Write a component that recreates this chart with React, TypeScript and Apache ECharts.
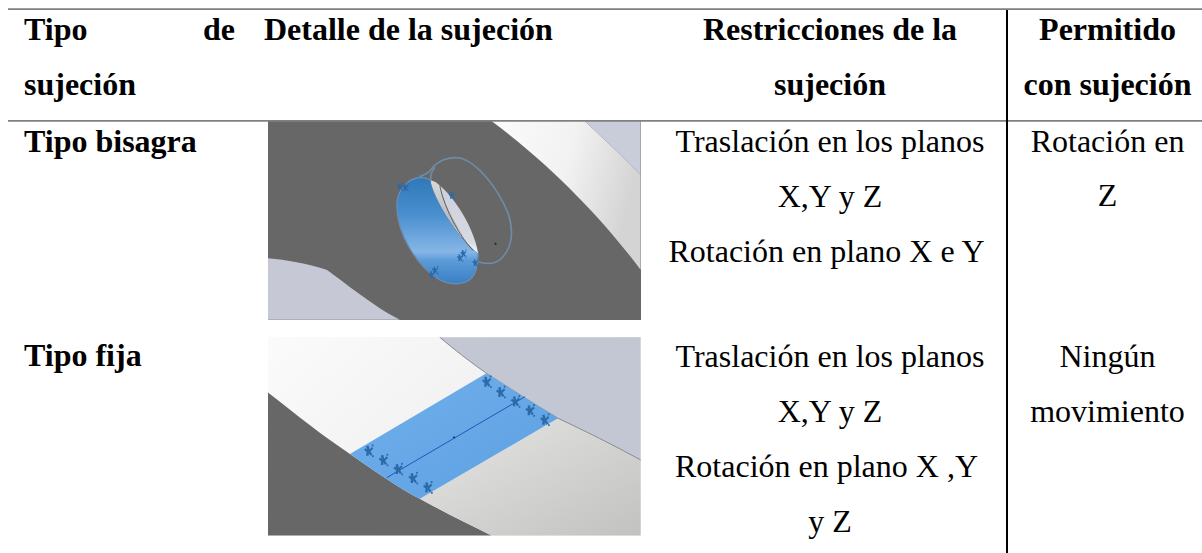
import React, { useEffect, useRef } from "react";
import * as echarts from "echarts";

const headerLeft = ["Tipo", "de", "sujeción"];
const headerDetail = "Detalle de la sujeción";
const headerRestr = ["Restricciones de la", "sujeción"];
const headerAllowed = ["Permitido", "con sujeción"];
const rowTypes = ["Tipo bisagra", "Tipo fija"];
const restr1 = ["Traslación en los planos", "X,Y y Z", "Rotación en plano X e Y"];
const restr2 = ["Traslación en los planos", "X,Y y Z", "Rotación en plano X ,Y", "y Z"];
const allowed1 = ["Rotación en", "Z"];
const allowed2 = ["Ningún", "movimiento"];

const FONT = "'Liberation Serif', 'Times New Roman', serif";
const SIZE = 32;
const BASE = 10.8;

// illustration outlines, in 3x crop units
const SHAPES: Record<string, string> = {
  a1Band: "M695 33 L975 33 C1040 95 1090 140 1143 195 L1143 480 C1040 340 880 170 695 33 Z",
  a1Corner: "M975 33 L1143 33 L1143 195 C1090 140 1040 95 975 33 Z",
  a1Low: "M24 445 C80 450 140 460 200 480 C250 515 340 590 420 630 L24 630 Z",
  a1Blue: "M411 285 C412 235 450 200 490 203 C500 205 510 208 513 212 C520 260 590 380 655 430 C655 465 650 490 635 505 C610 528 570 525 540 510 C470 470 410 370 411 285 Z",
  a1Inner: "M513 212 C560 225 640 340 655 430 C590 380 520 260 513 212 Z",
  a1InnerDark: "M513 212 C530 215 540 225 545 240 C565 310 610 385 655 430 C590 380 520 260 513 212 Z",
  a1Line: "M540 228 C555 300 600 380 640 422",
  a1Ring: "M478 200 C495 195 505 190 512 180 C535 150 570 138 605 145 C650 160 710 225 745 310 C765 370 755 420 720 450 C700 465 670 462 655 455",
  a1Ring2: "M513 212 C510 200 515 185 525 172",
  a2Dark: "M24 188 C110 255 190 320 270 372 C340 420 410 470 480 507 C550 545 620 580 695 617 L24 617 Z",
  a2Top: "M540 22 L1143 22 L1143 390 C1060 345 980 305 895 265 C820 220 750 175 680 130 C630 95 585 60 540 22 Z",
  a2TopEdge: "M1143 390 C1060 345 980 305 895 265 C820 220 750 175 680 130 C630 95 585 60 540 22",
  a2Low: "M480 507 L895 265 C980 305 1060 345 1143 390 L1143 617 L695 617 C620 580 550 545 480 507 Z",
  a2Blue: "M270 372 L680 130 C750 175 820 220 895 265 L480 507 C410 470 340 420 270 372 Z",
  anchor: "M-6 -11 L0 -12 L2 -3 L8 -9 L11 -5 L4 2 L9 9 L5 12 L0 6 L0 12 L-6 12 L-5 3 L-11 -2 L-8 -6 L-4 -3 Z M8 -15 L12 -14 L11 -10 L7 -11 Z M8 11 L12 11 L12 15 L8 15 Z",
};

const anchors2 = [
  [680, 155], [722, 186], [766, 214], [810, 241], [854, 269],
  [326, 362], [370, 390], [414, 417], [459, 444], [503, 472],
];
const anchors1 = [
  [575, 256], [610, 430], [600, 443], [525, 480], [515, 494], [646, 458], [436, 232], [420, 230],
];

function linear(x: number, y: number, x2: number, y2: number, stops: [number, string][]) {
  return {
    type: "linear", x, y, x2, y2,
    colorStops: stops.map(([offset, color]) => ({ offset, color })),
  };
}

export default function App() {
  const ref = useRef<HTMLDivElement>(null);
  useEffect(() => {
    Object.keys(SHAPES).forEach((k) => {
      echarts.graphic.registerShape("s_" + k, echarts.graphic.extendPath(SHAPES[k] as any, {}) as any);
    });
    const chart = echarts.init(ref.current!, undefined, { renderer: "svg", width: 1202, height: 553 });

    const txt = (text: string, x: number, y: number, bold = false, align = "left") => ({
      type: "text", x, y: y - BASE, silent: true,
      style: {
        text, fill: "#000", font: `${bold ? "bold " : ""}${SIZE}px ${FONT}`,
        textAlign: align, textVerticalAlign: "middle", verticalAlign: "middle",
      },
    });
    const shape = (k: string, ox: number, oy: number, style: any) => ({
      type: "s_" + k, x: ox, y: oy, scaleX: 1 / 3, scaleY: 1 / 3, silent: true, style,
    });
    const O1: [number, number] = [260, 110];
    const O2: [number, number] = [260, 330];

    const elements: any[] = [
      // image 1
      { type: "rect", shape: { x: 268, y: 121, width: 373, height: 199 }, style: { fill: "#676767" } },
      shape("a1Band", ...O1, { fill: linear(0, 0, 1, 0.25, [[0, "#fbfbfb"], [0.55, "#f2f2f2"], [1, "#d4d4d4"]]) }),
      shape("a1Corner", ...O1, { fill: "#c9cdd9" }),
      shape("a1Low", ...O1, { fill: "#c6c9d5" }),
      shape("a1Blue", ...O1, { fill: linear(0, 0, 0, 1, [[0, "#2f78b8"], [0.35, "#4a8fd0"], [0.7, "#86b6e6"], [0.78, "#5c9bd8"], [1, "#3880c4"]]), stroke: "#6a8cb0", lineWidth: 4 }),
      shape("a1Inner", ...O1, { fill: linear(0, 0, 0, 1, [[0, "#ccd0dc"], [0.85, "#d8dae2"], [1, "#f8f8f8"]]) }),
      shape("a1InnerDark", ...O1, { fill: linear(0, 0, 0, 1, [[0, "#d8d8d8"], [0.6, "#b8b8b8"], [1, "#ffffff"]]) }),
      shape("a1Line", ...O1, { fill: "none", stroke: "#55606c", lineWidth: 3 }),
      shape("a1Ring", ...O1, { fill: "none", stroke: "#6f8ba6", lineWidth: 5 }),
      shape("a1Ring2", ...O1, { fill: "none", stroke: "#6f8ba6", lineWidth: 5 }),
      { type: "circle", shape: { cx: 495.5, cy: 243.7, r: 1.2 }, style: { fill: "#333" } },
      ...anchors1.map(([x, y]) => ({ type: "s_anchor", x: 260 + x / 3, y: 110 + y / 3, scaleX: 0.28, scaleY: 0.28, silent: true, style: { fill: "#2a6aa8" } })),

      // image 2
      { type: "rect", shape: { x: 268, y: 337, width: 373, height: 198.5 }, style: { fill: linear(0, 0, 1, 0.6, [[0, "#fbfbfb"], [1, "#eaeaea"]]) } },
      shape("a2Dark", ...O2, { fill: "#676767" }),
      shape("a2Top", ...O2, { fill: "#c3c7d4" }),
      shape("a2Low", ...O2, { fill: linear(0, 0, 1, 1, [[0, "#e6e6e4"], [1, "#c2c2c0"]]) }),
      shape("a2TopEdge", ...O2, { fill: "none", stroke: "#8a8a90", lineWidth: 3 }),
      shape("a2Blue", ...O2, { fill: linear(0, 0, 1, 1, [[0, "#70b0ee"], [1, "#5e9fe0"]]) }),
      { type: "line", shape: { x1: 386.7, y1: 477.7, x2: 525, y2: 396.7 }, style: { stroke: "#2a52b8", lineWidth: 1 } },
      { type: "circle", shape: { cx: 454, cy: 437.3, r: 1 }, style: { fill: "#1a3a80" } },
      ...anchors2.map(([x, y]) => ({ type: "s_anchor", x: 260 + x / 3, y: 330 + y / 3, scaleX: 0.42, scaleY: 0.42, silent: true, style: { fill: "#2a6aa8" } })),

      // rules
      { type: "rect", shape: { x: 8, y: 8.3, width: 1194, height: 1.8 }, style: { fill: "#808080" } },
      { type: "rect", shape: { x: 8, y: 120, width: 1194, height: 1.7 }, style: { fill: "#808080" } },
      { type: "rect", shape: { x: 1006, y: 10, width: 2, height: 543 }, style: { fill: "#000" } },

      // header
      txt(headerLeft[0], 24, 40, true),
      txt(headerLeft[1], 235, 40, true, "right"),
      txt(headerLeft[2], 24, 95, true),
      txt(headerDetail, 264, 40, true),
      txt(headerRestr[0], 830, 40, true, "center"),
      txt(headerRestr[1], 830, 95, true, "center"),
      txt(headerAllowed[0], 1107.5, 40, true, "center"),
      txt(headerAllowed[1], 1107.5, 95, true, "center"),

      // rows
      txt(rowTypes[0], 24, 152, true),
      txt(rowTypes[1], 24, 366, true),
      ...restr1.map((t, i) => txt(t, i === 2 ? 826.5 : 830, 152 + i * 54.7, false, "center")),
      ...restr2.map((t, i) => txt(t, i === 2 ? 826.5 : 830, 366.5 + i * 55, false, "center")),
      ...allowed1.map((t, i) => txt(t, 1107.5, 152 + i * 54, false, "center")),
      ...allowed2.map((t, i) => txt(t, 1107.5, 366.5 + i * 55, false, "center")),
    ];

    chart.setOption({
      animation: false,
      backgroundColor: "#fff",
      graphic: { elements },
    });
    return () => chart.dispose();
  }, []);
  return <div ref={ref} style={{ position: "fixed", left: 0, top: 0, width: 1202, height: 553 }} />;
}
